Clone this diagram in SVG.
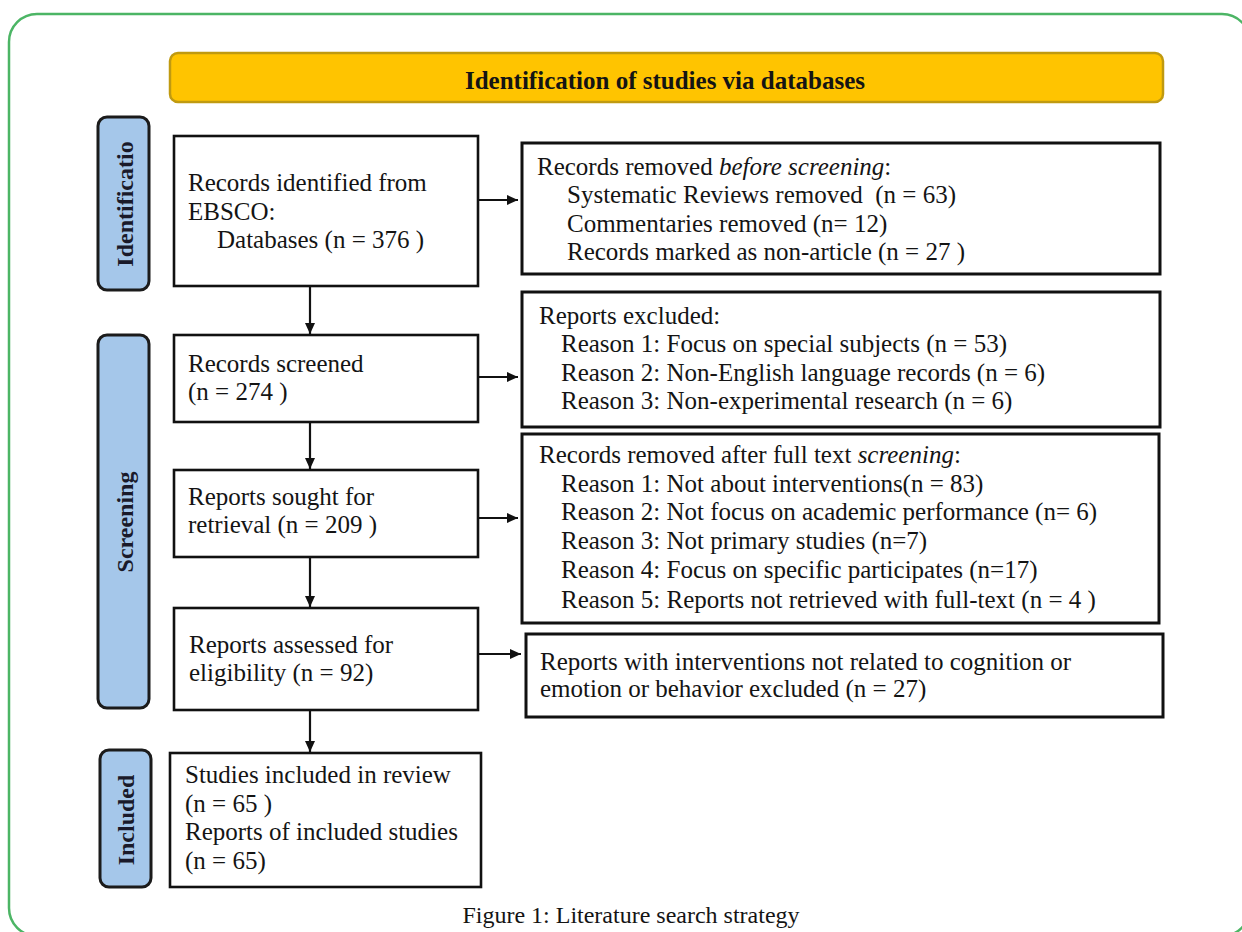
<svg xmlns="http://www.w3.org/2000/svg" width="1242" height="932" viewBox="0 0 1242 932">
<style>
.t{font-family:"Liberation Serif","Times New Roman",serif;font-size:25px;fill:#141414;white-space:pre}
.lbl{font-family:"Liberation Serif","Times New Roman",serif;font-size:24px;font-weight:bold;fill:#1a1a2a;text-anchor:middle}
.lb{fill:#fff;stroke:#111;stroke-width:2.6}
.rb{fill:#fff;stroke:#111;stroke-width:3}
.side{fill:#a5c7ea;stroke:#1b1b1b;stroke-width:3}
.con{stroke:#111;stroke-width:2.2;fill:none}
</style>
<defs>
<marker id="ah" markerUnits="userSpaceOnUse" markerWidth="11" markerHeight="10" refX="11" refY="5" orient="auto">
<path d="M0,0 L11,5 L0,10 z" fill="#111"/>
</marker>
</defs>
<rect width="1242" height="932" fill="#fff"/>
<rect x="9" y="14" width="1241" height="922" rx="28" fill="none" stroke="#4cb565" stroke-width="2.5"/>

<g id="header">
<rect x="170" y="53" width="993" height="49" rx="8" fill="#ffc400" stroke="#c09a10" stroke-width="2.5"/>
<text x="665" y="89" class="t" style="font-weight:bold;text-anchor:middle">Identification of studies via databases</text>
</g>

<g id="phase-identification">
<rect class="side" x="98" y="117" width="51" height="173" rx="9"/>
<text class="lbl" transform="translate(133,204) rotate(-90)">Identificatio</text>
</g>
<g id="phase-screening">
<rect class="side" x="98" y="335" width="51" height="373" rx="9"/>
<text class="lbl" transform="translate(133,522) rotate(-90)">Screening</text>
</g>
<g id="phase-included">
<rect class="side" x="100" y="750" width="51" height="137" rx="9"/>
<text class="lbl" transform="translate(134,820) rotate(-90)">Included</text>
</g>

<g id="records-identified">
<rect class="lb" x="174" y="136" width="304" height="150"/>
<text class="t" x="188" y="191">Records identified from</text>
<text class="t" x="188" y="220">EBSCO:</text>
<text class="t" x="217" y="248">Databases (n = 376 )</text>
</g>

<g id="records-removed-before">
<rect class="rb" x="522" y="143" width="638" height="131"/>
<text class="t" x="537" y="175">Records removed <tspan font-style="italic">before screening</tspan>:</text>
<text class="t" x="567" y="203">Systematic Reviews removed  (n = 63)</text>
<text class="t" x="567" y="232">Commentaries removed (n= 12)</text>
<text class="t" x="567" y="260">Records marked as non-article (n = 27 )</text>
</g>

<g id="records-screened">
<rect class="lb" x="174" y="335" width="304" height="87"/>
<text class="t" x="188" y="372">Records screened</text>
<text class="t" x="188" y="400">(n = 274 )</text>
</g>

<g id="reports-excluded">
<rect class="rb" x="522" y="292" width="638" height="135"/>
<text class="t" x="539" y="324">Reports excluded:</text>
<text class="t" x="561" y="352">Reason 1: Focus on special subjects (n = 53)</text>
<text class="t" x="561" y="381">Reason 2: Non-English language records (n = 6)</text>
<text class="t" x="561" y="409">Reason 3: Non-experimental research (n = 6)</text>
</g>

<g id="reports-sought">
<rect class="lb" x="174" y="470" width="304" height="87"/>
<text class="t" x="188" y="505">Reports sought for</text>
<text class="t" x="188" y="533">retrieval (n = 209 )</text>
</g>

<g id="records-removed-fulltext">
<rect class="rb" x="522" y="434" width="637" height="189"/>
<text class="t" x="539" y="463">Records removed after full text <tspan font-style="italic">screening</tspan>:</text>
<text class="t" x="561" y="492">Reason 1: Not about interventions(n = 83)</text>
<text class="t" x="561" y="520">Reason 2: Not focus on academic performance (n= 6)</text>
<text class="t" x="561" y="549">Reason 3: Not primary studies (n=7)</text>
<text class="t" x="561" y="578">Reason 4: Focus on specific participates (n=17)</text>
<text class="t" x="561" y="608">Reason 5: Reports not retrieved with full-text (n = 4 )</text>
</g>

<g id="reports-assessed">
<rect class="lb" x="174" y="608" width="304" height="102"/>
<text class="t" x="189" y="653">Reports assessed for</text>
<text class="t" x="189" y="681">eligibility (n = 92)</text>
</g>

<g id="reports-excluded-intervention">
<rect class="rb" x="526" y="634" width="637" height="83"/>
<text class="t" x="540" y="670">Reports with interventions not related to cognition or</text>
<text class="t" x="540" y="697">emotion or behavior excluded (n = 27)</text>
</g>

<g id="studies-included">
<rect class="lb" x="170" y="753" width="311" height="134"/>
<text class="t" x="185" y="783">Studies included in review</text>
<text class="t" x="185" y="812">(n = 65 )</text>
<text class="t" x="185" y="840">Reports of included studies</text>
<text class="t" x="185" y="869">(n = 65)</text>
</g>

<g id="connectors">
<line class="con" x1="310" y1="287" x2="310" y2="334" marker-end="url(#ah)"/>
<line class="con" x1="310" y1="422" x2="310" y2="469" marker-end="url(#ah)"/>
<line class="con" x1="310" y1="557" x2="310" y2="607" marker-end="url(#ah)"/>
<line class="con" x1="310" y1="710" x2="310" y2="752" marker-end="url(#ah)"/>
<line class="con" x1="478" y1="200" x2="518" y2="200" marker-end="url(#ah)"/>
<line class="con" x1="478" y1="377" x2="518" y2="377" marker-end="url(#ah)"/>
<line class="con" x1="478" y1="518" x2="518" y2="518" marker-end="url(#ah)"/>
<line class="con" x1="478" y1="654" x2="521" y2="654" marker-end="url(#ah)"/>
</g>

<text x="631" y="923" class="t" style="font-size:24px;text-anchor:middle">Figure 1: Literature search strategy</text>
</svg>
